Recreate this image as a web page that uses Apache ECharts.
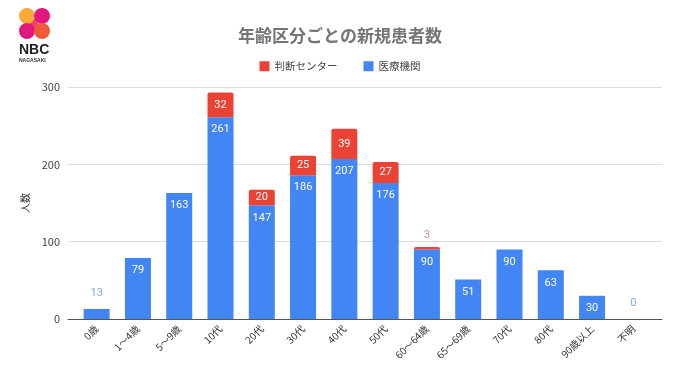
<!DOCTYPE html>
<html><head><meta charset="utf-8">
<script src="https://cdn.jsdelivr.net/npm/echarts@6/dist/echarts.min.js"></script>
<style>html,body{margin:0;padding:0;background:#fff}#c{width:680px;height:382px}</style>
</head><body><div id="c"></div>
<script>
const categories = ['0歳','1～4歳','5～9歳','10代','20代','30代','40代','50代','60～64歳','65～69歳','70代','80代','90歳以上','不明'];
const iryoValues = [13,79,163,261,147,186,207,176,90,51,90,63,30,0];
const handanValues = [0,0,0,32,20,25,39,27,3,0,0,0,0,0];
const yTicks = [0,100,200,300];
const titleText = '年齢区分ごとの新規患者数';
const seriesNames = ['判断センター','医療機関'];

const BLUE = '#4285F4', RED = '#EA4335';
const FONT = '"Noto Sans CJK JP","Noto Sans",Roboto,sans-serif';

const blueData = iryoValues.map(v => {
  const small = v < 20;
  return {
    value: v,
    label: small
      ? {position: 'top', color: '#7FA8EE', distance: 10}
      : {position: 'insideTop', color: '#fff', distance: 7}
  };
});
const redData = handanValues.map(v => {
  if (v === 0) return {value: v, label: {show: false}};
  const small = v < 10;
  return {
    value: v,
    label: small
      ? {show: true, position: 'top', color: '#E88A80', distance: 6}
      : {show: true, position: 'inside', color: '#fff'}
  };
});

const chart = echarts.init(document.getElementById('c'), null, {renderer: 'canvas'});
chart.setOption({
  animation: false,
  textStyle: {fontFamily: FONT},
  title: {
    text: titleText, left: 'center', top: 22,
    textStyle: {fontSize: 17, fontWeight: 'bold', color: '#757575', fontFamily: FONT}
  },
  legend: {
    data: seriesNames, top: 56, left: 'center', itemWidth: 10, itemHeight: 10, itemGap: 26,
    icon: 'rect', textStyle: {fontSize: 10.5, color: '#444', fontFamily: FONT}
  },
  grid: [
    {left: 76, right: 26, top: 87, bottom: 63},
    {left: 68, right: 18, top: 87, bottom: 63}
  ],
  xAxis: [
    {
      type: 'category', data: categories, gridIndex: 0,
      axisTick: {show: false},
      axisLine: {show: false},
      axisLabel: {rotate: 45, fontSize: 10, color: '#333', margin: 8, interval: 0, fontFamily: FONT}
    },
    {
      type: 'value', gridIndex: 1, min: 0, max: 1, show: true,
      axisLabel: {show: false}, axisTick: {show: false}, splitLine: {show: false},
      axisLine: {show: true, onZero: false, lineStyle: {color: '#555', width: 1}}
    }
  ],
  yAxis: [
    {
      type: 'value', gridIndex: 0, min: yTicks[0], max: yTicks[yTicks.length - 1], interval: 100,
      axisLabel: {show: false}, splitLine: {show: false}, axisLine: {show: false}, axisTick: {show: false}
    },
    {
      type: 'value', gridIndex: 1, min: yTicks[0], max: yTicks[yTicks.length - 1], interval: 100,
      name: '人数', nameLocation: 'middle', nameGap: 38, nameRotate: 90,
      nameTextStyle: {fontSize: 10, color: '#333', fontFamily: FONT},
      axisLabel: {fontSize: 11, color: '#444', margin: 8},
      axisLine: {show: false}, axisTick: {show: false},
      splitLine: {lineStyle: {color: '#dcdcdc', width: 1}}
    }
  ],
  series: [
    {
      name: seriesNames[1], type: 'bar', stack: 's', xAxisIndex: 0, yAxisIndex: 0,
      data: blueData, barWidth: 26, itemStyle: {color: BLUE},
      label: {show: true, fontSize: 11, fontFamily: 'Roboto, sans-serif'},
      z: 3
    },
    {
      name: seriesNames[0], type: 'bar', stack: 's', xAxisIndex: 0, yAxisIndex: 0,
      data: redData, barWidth: 26, itemStyle: {color: RED, borderRadius: [2,2,0,0]},
      label: {show: true, fontSize: 11, fontFamily: 'Roboto, sans-serif'},
      z: 3
    }
  ],
  graphic: [
    {type: 'polygon', shape: {points: [[23,14],[29,11],[45,33],[39,36]]}, style: {fill: '#EE4660'}},
    {type: 'circle', shape: {cx: 27, cy: 16, r: 8}, style: {fill: '#F9A93A'}},
    {type: 'circle', shape: {cx: 42, cy: 16, r: 8}, style: {fill: '#E2177E'}},
    {type: 'circle', shape: {cx: 27, cy: 31, r: 8}, style: {fill: '#E2177E'}},
    {type: 'circle', shape: {cx: 42, cy: 31, r: 8}, style: {fill: '#F05A3A'}},
    {type: 'text', left: 19, top: 43, style: {text: 'NBC', font: 'bold 14px "Liberation Sans", Arial, sans-serif', fill: '#222'}},
    {type: 'text', left: 19, top: 58, style: {text: 'NAGASAKI', font: 'bold 5px "Liberation Sans", Arial, sans-serif', fill: '#333'}}
  ]
});
</script>
</body></html>
